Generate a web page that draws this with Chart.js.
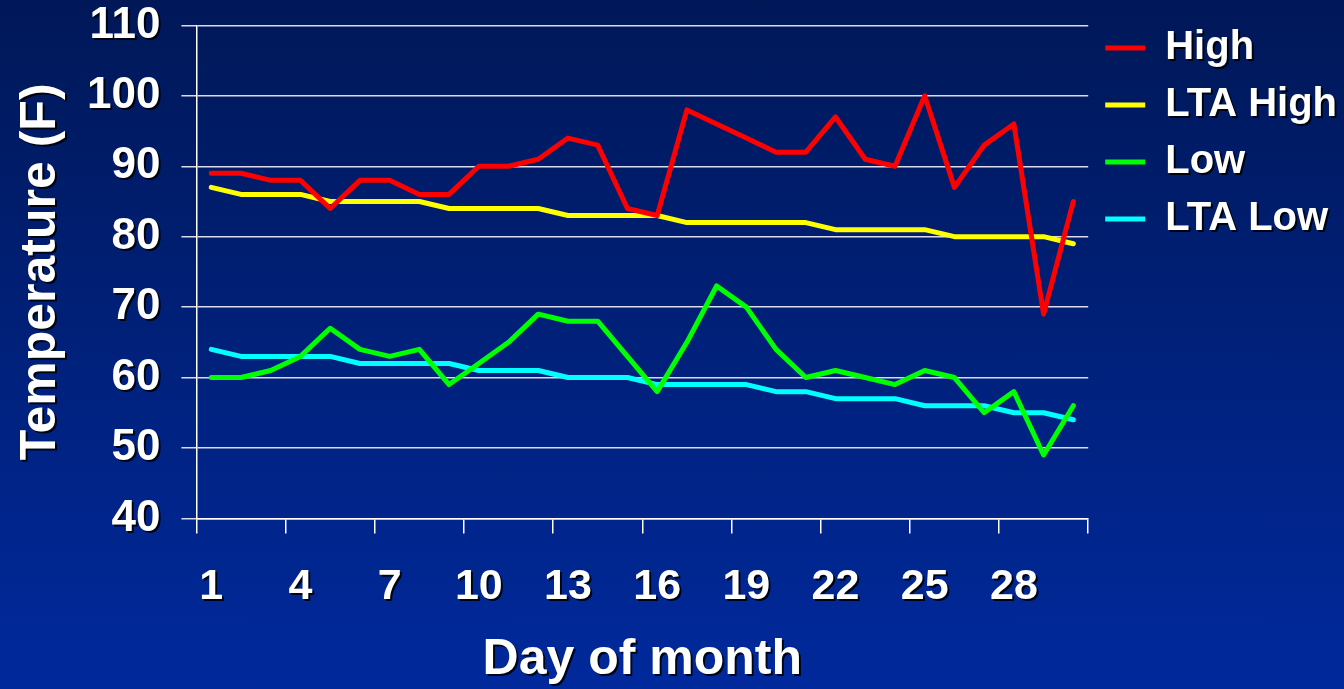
<!DOCTYPE html>
<html>
<head>
<meta charset="utf-8">
<title>Temperature</title>
<script src="https://cdn.jsdelivr.net/npm/chart.js@4"></script>
<style>
    html, body { margin: 0; padding: 0; }
    body {
        width: 1344px;
        height: 689px;
        overflow: hidden;
        background: linear-gradient(#001858, #00299c);
    }
    #chartBox { position: relative; width: 1344px; height: 689px; }
</style>
</head>
<body>
<div id="chartBox"><canvas id="tempChart"></canvas></div>
<script>
// 数据
const days = ['1', '2', '3', '4', '5', '6', '7', '8', '9', '10',
    '11', '12', '13', '14', '15', '16', '17', '18', '19', '20',
    '21', '22', '23', '24', '25', '26', '27', '28', '29', '30'];
const high = [89, 89, 88, 88, 84, 88, 88, 86, 86, 90, 90, 91, 94, 93, 84,
    83, 98, 96, 94, 92, 92, 97, 91, 90, 100, 87, 93, 96, 69, 85];
const ltaHigh = [87, 86, 86, 86, 85, 85, 85, 85, 84, 84, 84, 84, 83, 83, 83,
    83, 82, 82, 82, 82, 82, 81, 81, 81, 81, 80, 80, 80, 80, 79];
const low = [60, 60, 61, 63, 67, 64, 63, 64, 59, 62, 65, 69, 68, 68, 63,
    58, 65, 73, 70, 64, 60, 61, 60, 59, 61, 60, 55, 58, 49, 56];
const ltaLow = [64, 63, 63, 63, 63, 62, 62, 62, 62, 61, 61, 61, 60, 60, 60,
    59, 59, 59, 59, 58, 58, 57, 57, 57, 56, 56, 56, 55, 55, 54];
const tempTicks = [40, 50, 60, 70, 80, 90, 100, 110];
const dayStep = 3;

const FONT = "'Liberation Sans', Arial, sans-serif";

// 文字阴影
const textShadow = {
    id: 'textShadow',
    beforeInit(chart) {
        const ctx = chart.ctx;
        const fillText = ctx.fillText.bind(ctx);
        ctx.fillText = function (...args) {
            ctx.save();
            ctx.shadowColor = 'rgba(0, 0, 0, 0.85)';
            ctx.shadowOffsetX = 2;
            ctx.shadowOffsetY = 2;
            ctx.shadowBlur = 0;
            fillText(...args);
            ctx.restore();
        };
    }
};

function lineSet(label, values, color) {
    return {
        label: label,
        data: values,
        borderColor: color,
        backgroundColor: color,
        borderWidth: 5,
        pointRadius: 0,
        tension: 0,
        borderCapStyle: 'round',
        borderJoinStyle: 'round'
    };
}

Chart.defaults.color = '#ffffff';
Chart.defaults.font.family = FONT;
Chart.defaults.font.weight = 'bold';

const ctx = document.getElementById('tempChart').getContext('2d');
const tempChart = new Chart(ctx, {
    type: 'line',
    data: {
        labels: days,
        datasets: [
            lineSet('High', high, '#ff0000'),
            lineSet('LTA High', ltaHigh, '#ffff00'),
            lineSet('Low', low, '#00ff00'),
            lineSet('LTA Low', ltaLow, '#00ffff')
        ]
    },
    options: {
        responsive: true,
        maintainAspectRatio: false,
        animation: false,
        layout: { padding: { top: 11, left: 0, right: -3, bottom: 0 } },
        plugins: {
            tooltip: { enabled: false },
            legend: {
                position: 'right',
                align: 'start',
                labels: {
                    color: '#ffffff',
                    font: { size: 40, weight: 'bold', family: FONT },
                    boxWidth: 40,
                    boxHeight: 5,
                    padding: 17,
                    generateLabels: chart => Chart.defaults.plugins.legend.labels
                        .generateLabels(chart)
                        .map(item => Object.assign(item, { fillStyle: item.strokeStyle, lineWidth: 0 }))
                }
            }
        },
        scales: {
            x: {
                offset: true,
                grid: {
                    offset: true,
                    drawOnChartArea: false,
                    drawTicks: true,
                    tickLength: 15,
                    lineWidth: 1.5,
                    color: c => (c.index === undefined || c.index % dayStep === 0) ? '#ffffff' : 'rgba(0,0,0,0)'
                },
                border: { color: '#ffffff', width: 1.5 },
                ticks: {
                    autoSkip: false,
                    maxRotation: 0,
                    padding: 28,
                    font: { size: 43, weight: 'bold', family: FONT },
                    callback: (value, index) => index % dayStep === 0 ? days[index] : ''
                },
                title: {
                    display: true,
                    text: 'Day of month',
                    color: '#ffffff',
                    font: { size: 50, weight: 'bold', family: FONT, lineHeight: 0.76 },
                    padding: { top: 0, bottom: 10 }
                }
            },
            y: {
                min: 40,
                max: 110,
                afterBuildTicks: axis => {
                    axis.ticks = tempTicks.map(v => ({ value: v }));
                },
                grid: {
                    color: '#dcdce8',
                    lineWidth: 1.5,
                    tickLength: 15
                },
                border: { color: '#ffffff', width: 1.5 },
                ticks: {
                    padding: 21,
                    font: { size: 44, weight: 'bold', family: FONT, lineHeight: 0.2 }
                },
                title: {
                    display: true,
                    text: 'Temperature (F)',
                    color: '#ffffff',
                    font: { size: 50, weight: 'bold', family: FONT, lineHeight: 1 },
                    padding: { top: 16, bottom: 0 }
                }
            }
        }
    },
    plugins: [textShadow]
});
</script>
</body>
</html>
